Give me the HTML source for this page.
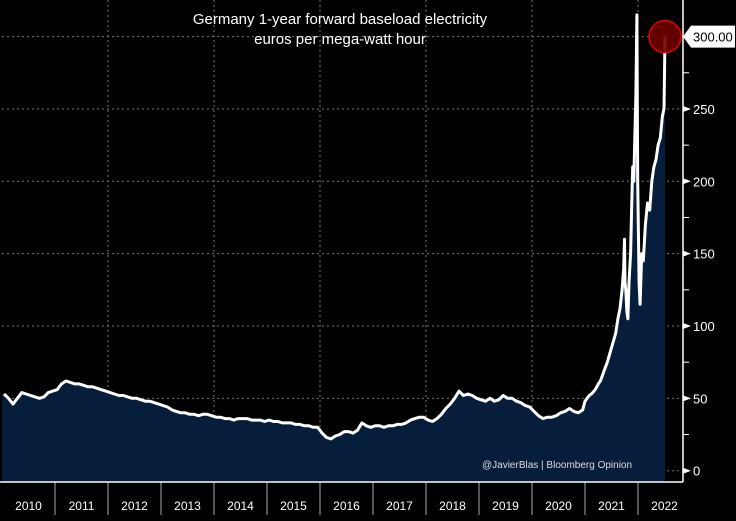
<!DOCTYPE html>
<html><head><meta charset="utf-8"><style>
html,body{margin:0;padding:0;background:#000;}
svg{display:block;font-family:"Liberation Sans",sans-serif;}
</style></head><body>
<svg id="chart" width="736" height="521" viewBox="0 0 736 521">
<rect width="736" height="521" fill="#000"/>
<g id="grid"></g>
<path id="area" fill="#061e3b"/>
<path id="line" fill="none" stroke="#fff" stroke-width="3" stroke-linejoin="round"/>
<g id="axes"></g>
<text x="340" y="24" fill="#fff" font-size="15" text-anchor="middle">Germany 1-year forward baseload electricity</text>
<text x="340" y="44" fill="#fff" font-size="15" text-anchor="middle">euros per mega-watt hour</text>
<text x="482" y="468" fill="#ddd" font-size="10">@JavierBlas | Bloomberg Opinion</text>
<g id="marker"></g>
</svg>
<script>
const yearLabels = [2010,2011,2012,2013,2014,2015,2016,2017,2018,2019,2020,2021,2022];
const yTicks = [0,50,100,150,200,250];
const monthly = [
53,50,46,50,54,53,52,51,50,51,54,55,
56,60,62,61,60,60,59,58,58,57,56,55,
54,53,52,52,51,50,50,49,48,48,47,46,
45,44,42,41,40,40,39,39,38,39,39,38,
37,37,36,36,35,36,36,36,35,35,35,34,
35,34,34,33,33,33,32,32,31,31,30,30,
26,23,22,24,25,27,27,26,28,33,31,30,
31,31,30,31,31,32,32,33,35,36,37,37,
35,34,36,39,43,46,50,55,52,53,52,50,
49,48,50,48,49,52,50,50,48,47,45,44,
41,38,36,37,37,38,40,41,43,41,40,42];
const lateDates = [2021.00,2021.04,2021.08,2021.12,2021.17,2021.21,2021.25,2021.29,2021.33,2021.37,2021.42,2021.46,2021.50,2021.54,2021.58,2021.62,2021.66,2021.70,2021.73,2021.745,2021.755,2021.77,2021.79,2021.81,2021.83,2021.86,2021.88,2021.90,2021.92,2021.94,2021.96,2021.98,2021.995,2022.02,2022.04,2022.07,2022.10,2022.14,2022.18,2022.22,2022.26,2022.30,2022.34,2022.38,2022.42,2022.46,2022.49,2022.51];
const lateValues = [48,50,52,53,55,57,60,62,66,70,75,80,85,90,95,105,112,125,140,160,130,125,110,105,130,150,180,210,200,230,260,315,200,130,115,150,145,170,185,180,200,210,215,225,230,245,250,300];
const lastValue = 300;

const NS='http://www.w3.org/2000/svg';
const xS = t => 2 + (t-2010)*53;
const yS = v => 470.7 - v*1.447;
const X0=2, AX=683, BASE=482;

const dates=[], vals=[];
monthly.forEach((v,i)=>{dates.push(2010+i/12+0.04); vals.push(v);});
lateDates.forEach((d,i)=>{dates.push(d); vals.push(lateValues[i]);});

let d='';
dates.forEach((t,i)=>{d+=(i?'L':'M')+xS(t).toFixed(1)+','+yS(vals[i]).toFixed(1);});
document.getElementById('line').setAttribute('d',d);
const lastX = xS(dates[dates.length-1]);
document.getElementById('area').setAttribute('d','M'+X0+','+BASE+'L'+X0+','+yS(vals[0]).toFixed(1)+d.replace(/^M/,'L')+'L'+lastX.toFixed(1)+','+BASE+'Z');

function mk(tag,attrs,parent){const e=document.createElementNS(NS,tag);for(const k in attrs)e.setAttribute(k,attrs[k]);parent.appendChild(e);return e;}
const grid=document.getElementById('grid'), axes=document.getElementById('axes');

for(let v=0; v<=300; v+=50){
  const g=mk('line',{x1:X0,x2:AX,y1:yS(v),y2:yS(v),stroke:'#777','stroke-dasharray':'2,3','stroke-width':1},grid);
  
  
}
yearLabels.forEach((yr,i)=>{
  if(i>0 && i%2===0){
    const g=mk('line',{x1:xS(yr),x2:xS(yr),y1:0,y2:BASE,stroke:'#777','stroke-dasharray':'2,3','stroke-width':1},grid);
    
    
  }
  if(i>0){
    const tk=mk('line',{x1:xS(yr),x2:xS(yr),y1:BASE,y2:515,stroke:'#aaa','stroke-width':1},axes);
    
    
  }
  const tx=mk('text',{x:xS(yr+0.5),y:510,fill:'#fff','font-size':12,'text-anchor':'middle'},axes);
  tx.textContent=yr;
  
  
});
const xa=mk('line',{x1:0,x2:AX,y1:BASE,y2:BASE,stroke:'#fff','stroke-width':1.5},axes);


const ya=mk('line',{x1:AX,x2:AX,y1:0,y2:BASE,stroke:'#fff','stroke-width':1.5},axes);


for(let v=25; v<300; v+=50){
  const m=mk('line',{x1:AX,x2:AX+6,y1:yS(v),y2:yS(v),stroke:'#fff','stroke-width':1},axes);
  
  
}
yTicks.forEach(v=>{
  const y=yS(v);
  const p=mk('path',{d:`M${AX},${y-3}L${AX+8},${y}L${AX},${y+3}Z`,fill:'#fff'},axes);
  
  
  const t=mk('text',{x:AX+10,y:y+5,fill:'#fff','font-size':13},axes);
  t.textContent=v;
  
  
});
const mg=document.getElementById('marker');
const ly=yS(lastValue);
const c=mk('circle',{cx:lastX,cy:ly,r:16,fill:'#6e0000','fill-opacity':0.9,stroke:'#e00000','stroke-width':1.5},mg);


const lb=mk('path',{d:`M${AX},${ly}L${AX+8},${ly-11}L${AX+52},${ly-11}L${AX+52},${ly+11}L${AX+8},${ly+11}Z`,fill:'#fff'},mg);


const lt=mk('text',{x:AX+10,y:ly+5,fill:'#000','font-size':13},mg);
lt.textContent=lastValue.toFixed(2);


</script>
</body></html>
